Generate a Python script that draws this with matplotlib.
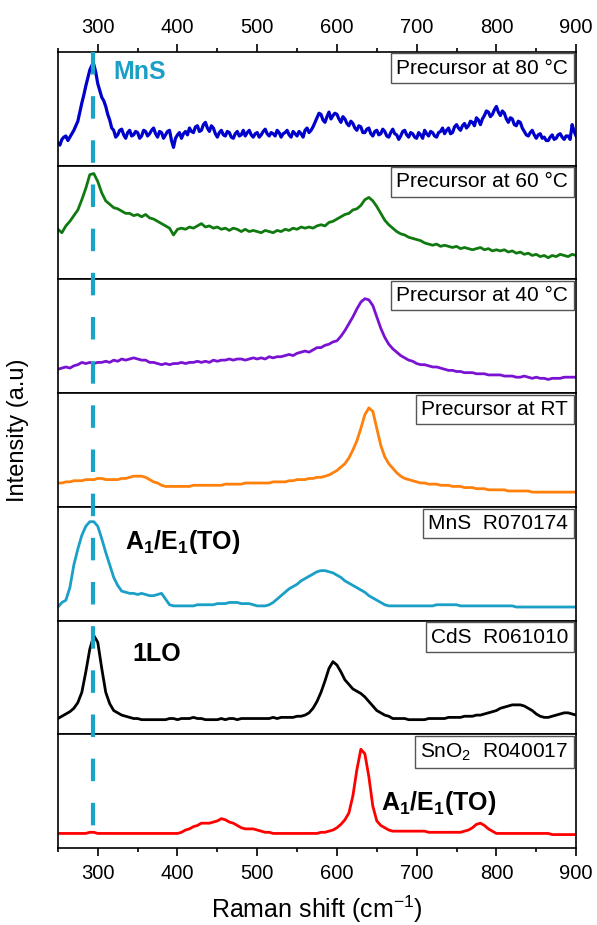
import numpy as np
import matplotlib.pyplot as plt
import matplotlib.transforms as mtransforms
from matplotlib.lines import Line2D
from matplotlib.ticker import MultipleLocator

plt.rcParams['font.family'] = ['Liberation Sans', 'DejaVu Sans']
plt.rcParams['mathtext.fontset'] = 'custom'
plt.rcParams['mathtext.rm'] = 'Liberation Sans'
plt.rcParams['mathtext.it'] = 'Liberation Sans:italic'
plt.rcParams['mathtext.bf'] = 'Liberation Sans:bold'

# Raman shift grids (cm-1): 5 cm-1 steps, 2.5 cm-1 for the noisy 80 °C scan
shift = np.arange(250, 905, 5)
shift_fine = np.linspace(250, 900, 261)

# Intensities, in % of each panel's height
prec_80 = [
    20, 18, 23, 25, 26, 22, 25, 28, 31, 35, 39, 47, 55, 62, 70, 77, 84, 88, 89, 82,
    72, 66, 60, 57, 52, 45, 40, 33, 31, 25, 27, 31, 32, 27, 24, 29, 31, 26, 27, 30,
    29, 24, 26, 31, 30, 26, 28, 31, 33, 28, 25, 30, 29, 24, 27, 30, 31, 22, 16, 24,
    27, 29, 24, 28, 30, 27, 33, 30, 29, 34, 35, 30, 31, 36, 38, 33, 30, 35, 33, 28,
    25, 29, 31, 27, 26, 30, 29, 25, 24, 28, 30, 26, 27, 31, 26, 29, 31, 27, 25, 28,
    29, 25, 27, 30, 32, 28, 26, 29, 28, 26, 31, 29, 25, 28, 29, 31, 27, 25, 30, 28,
    26, 30, 28, 25, 31, 33, 29, 31, 34, 38, 42, 46, 45, 40, 38, 43, 47, 41, 44, 46,
    45, 41, 38, 43, 41, 37, 35, 39, 37, 33, 31, 35, 34, 29, 29, 32, 33, 28, 26, 30,
    31, 27, 28, 32, 30, 26, 25, 29, 32, 28, 27, 23, 26, 30, 31, 27, 25, 29, 28, 25,
    24, 29, 27, 24, 31, 28, 26, 30, 29, 26, 25, 29, 30, 33, 28, 31, 33, 28, 29, 34,
    36, 33, 31, 35, 37, 33, 35, 39, 38, 35, 42, 40, 36, 41, 44, 48, 47, 43, 45, 49,
    52, 47, 44, 48, 46, 41, 38, 42, 41, 36, 35, 39, 38, 33, 30, 27, 26, 29, 31, 27,
    24, 27, 28, 24, 25, 22, 22, 25, 27, 23, 24, 27, 28, 25, 23, 26, 26, 23, 36, 30,
    26,
]
prec_60 = [
    44, 41, 47, 51, 56, 61, 70, 80, 92, 93,
    86, 76, 69, 66, 63, 62, 60, 58, 58, 56,
    57, 55, 57, 54, 53, 51, 49, 47, 45, 39,
    44, 45, 44, 46, 45, 47, 49, 46, 47, 45,
    46, 44, 45, 43, 45, 44, 42, 44, 42, 43,
    42, 41, 43, 42, 41, 43, 42, 44, 43, 45,
    44, 46, 45, 46, 45, 47, 48, 47, 50, 51,
    53, 55, 57, 58, 61, 62, 65, 70, 72, 69,
    64, 58, 52, 48, 45, 42, 40, 39, 37, 36,
    35, 34, 32, 31, 30, 31, 29, 30, 29, 28,
    29, 27, 28, 27, 26, 27, 28, 26, 27, 25,
    26, 25, 26, 24, 25, 23, 24, 22, 23, 21,
    22, 20, 21, 19, 21, 20, 22, 21, 20, 22,
    21,
]
prec_40 = [
    21, 22, 23, 22, 24, 25, 27, 26, 27, 26,
    27, 27, 28, 27, 29, 28, 30, 29, 30, 31,
    30, 29, 29, 27, 27, 26, 25, 26, 25, 26,
    26, 27, 26, 27, 27, 28, 27, 28, 27, 29,
    28, 29, 29, 30, 29, 30, 30, 29, 30, 31,
    30, 31, 30, 32, 31, 32, 32, 33, 34, 33,
    35, 36, 37, 36, 38, 40, 40, 42, 43, 45,
    46, 50, 55, 61, 67, 74, 80, 83, 82, 77,
    67, 57, 49, 43, 39, 36, 33, 31, 29, 28,
    26, 25, 25, 24, 23, 23, 22, 21, 20, 20,
    19, 19, 18, 18, 18, 17, 17, 17, 16, 16,
    16, 16, 15, 15, 15, 14, 14, 15, 14, 13,
    14, 13, 13, 12, 13, 13, 13, 14, 14, 14,
    14,
]
prec_rt = [
    21, 21, 22, 22, 23, 23, 23, 24, 24, 24,
    25, 25, 24, 24, 24, 24, 25, 25, 26, 27,
    27, 27, 26, 24, 22, 21, 19, 18, 18, 18,
    18, 18, 18, 18, 19, 19, 19, 19, 19, 19,
    19, 19, 20, 20, 20, 20, 20, 21, 21, 21,
    21, 21, 21, 21, 22, 22, 22, 22, 23, 23,
    24, 24, 24, 25, 25, 26, 26, 27, 28, 30,
    32, 35, 38, 43, 50, 58, 69, 81, 87, 84,
    69, 54, 44, 38, 34, 30, 27, 25, 24, 23,
    22, 21, 21, 20, 20, 20, 19, 19, 19, 18,
    18, 18, 17, 17, 17, 16, 16, 16, 15, 15,
    15, 15, 15, 14, 14, 14, 14, 14, 14, 13,
    13, 13, 13, 13, 13, 13, 13, 13, 13, 13,
    13,
]
mns_ref = [
    12, 16, 18, 29, 49, 63, 75, 83, 87, 87,
    83, 72, 60, 49, 38, 31, 26, 25, 24, 24,
    23, 24, 23, 22, 22, 23, 24, 19, 14, 13,
    13, 13, 13, 13, 13, 14, 14, 14, 14, 14,
    15, 15, 15, 16, 16, 16, 15, 15, 15, 14,
    13, 13, 13, 14, 16, 19, 22, 25, 28, 30,
    32, 35, 37, 39, 41, 43, 44, 44, 43, 42,
    40, 38, 35, 33, 31, 29, 27, 25, 22, 20,
    18, 16, 14, 13, 13, 13, 13, 13, 13, 13,
    13, 13, 13, 13, 13, 14, 14, 14, 14, 14,
    14, 13, 13, 13, 13, 13, 13, 13, 13, 13,
    13, 13, 13, 13, 13, 12, 12, 12, 12, 12,
    12, 12, 12, 12, 12, 12, 12, 12, 12, 12,
    12,
]
cds_ref = [
    14, 16, 18, 20, 23, 28, 37, 55, 75, 87,
    81, 58, 37, 27, 21, 19, 17, 16, 15, 14,
    14, 13, 13, 13, 13, 13, 13, 13, 14, 14,
    13, 14, 14, 14, 15, 14, 14, 13, 13, 13,
    13, 14, 13, 14, 14, 13, 14, 14, 14, 14,
    14, 14, 14, 14, 15, 14, 15, 15, 15, 15,
    16, 16, 17, 19, 23, 29, 37, 47, 58, 64,
    61, 55, 48, 44, 40, 38, 36, 33, 29, 25,
    21, 19, 17, 16, 14, 14, 14, 14, 13, 13,
    13, 13, 13, 14, 14, 14, 14, 14, 15, 15,
    15, 15, 16, 16, 16, 17, 17, 18, 19, 20,
    21, 23, 24, 25, 26, 26, 26, 25, 23, 21,
    18, 16, 15, 15, 16, 17, 18, 19, 19, 18,
    17,
]
sno2_ref = [
    13, 13, 13, 13, 13, 13, 13, 13, 14, 14,
    13, 13, 13, 13, 13, 13, 13, 13, 13, 13,
    13, 13, 13, 13, 13, 13, 13, 13, 13, 13,
    13, 14, 16, 17, 19, 20, 22, 22, 22, 23,
    24, 26, 25, 23, 22, 20, 18, 17, 17, 17,
    16, 15, 14, 14, 13, 13, 13, 13, 13, 13,
    13, 13, 13, 13, 13, 13, 14, 14, 15, 16,
    18, 21, 25, 31, 46, 69, 87, 83, 63, 37,
    24, 20, 18, 16, 15, 15, 15, 15, 15, 15,
    15, 15, 15, 14, 14, 14, 14, 14, 14, 14,
    14, 14, 15, 16, 18, 21, 22, 20, 17, 15,
    13, 13, 13, 13, 13, 13, 13, 13, 13, 13,
    13, 13, 13, 13, 12, 12, 12, 12, 12, 12,
    12,
]

spectra = [prec_80, prec_60, prec_40, prec_rt, mns_ref, cds_ref, sno2_ref]
labels = ['Precursor at 80 °C', 'Precursor at 60 °C', 'Precursor at 40 °C',
          'Precursor at RT', 'MnS  R070174', 'CdS  R061010',
          'SnO$_2$  R040017']
colors = ['#0000CD', '#107A10', '#7A12D2', '#FF800A', '#1A9FC7', 'black',
          '#FF0000']
mns_line = 294

fig, axes = plt.subplots(7, 1, sharex=True, figsize=(5.97, 9.25), dpi=100)
fig.subplots_adjust(left=0.097, right=0.965, top=0.944, bottom=0.083,
                    hspace=0)

for i, ax in enumerate(axes):
    x = shift_fine if i == 0 else shift
    ax.plot(x, spectra[i], color=colors[i], lw=2.3 if i == 0 else 2)
    ax.set_ylim(0, 100)
    ax.set_xlim(250, 900)
    ax.set_yticks([])
    for sp in ax.spines.values():
        sp.set_linewidth(1.2)
    ax.tick_params(axis='x', which='both', bottom=False, top=False,
                   labelbottom=False, labeltop=False)
    ax.text(0.985, 0.94, labels[i], transform=ax.transAxes, ha='right',
            va='top', fontsize=15,
            bbox=dict(boxstyle='square,pad=0.25', fc='white', ec='#555555',
                      lw=1))

axes[0].xaxis.set_major_locator(MultipleLocator(100))
axes[0].xaxis.set_minor_locator(MultipleLocator(50))
axes[0].tick_params(axis='x', which='both', top=True, labeltop=True,
                    direction='out', labelsize=14.5, width=1.2, pad=5)
axes[-1].tick_params(axis='x', which='both', bottom=True, labelbottom=True,
                     direction='out', labelsize=14.5, width=1.2, pad=5)
for ax in (axes[0], axes[-1]):
    ax.tick_params(axis='x', which='major', length=6)
    ax.tick_params(axis='x', which='minor', length=3)

# peak annotations
axes[0].text(319, 82, 'MnS', color='#1A9FC7', fontsize=18,
             fontweight='bold', va='center')
axes[4].text(334, 69, r'$\mathbf{A_1/E_1(TO)}$', fontsize=18, va='center')
axes[5].text(344, 71, '1LO', fontsize=18, fontweight='bold', va='center')
axes[6].text(655, 40, r'$\mathbf{A_1/E_1(TO)}$', fontsize=18, va='center')

# dashed MnS reference line through all panels
trans = mtransforms.blended_transform_factory(axes[-1].transData,
                                              fig.transFigure)
fig.add_artist(Line2D([mns_line, mns_line], [0.944, 0.088], transform=trans,
                      color='#1AA3C8', lw=3, linestyle=(0, (5.4, 5.2)),
                      zorder=5))

axes[-1].set_xlabel('Raman shift (cm$^{-1}$)', fontsize=18, labelpad=8)
fig.text(0.03, 0.535, 'Intensity (a.u)', rotation=90, fontsize=17,
         ha='center', va='center')

plt.savefig('out.png', dpi=100)
